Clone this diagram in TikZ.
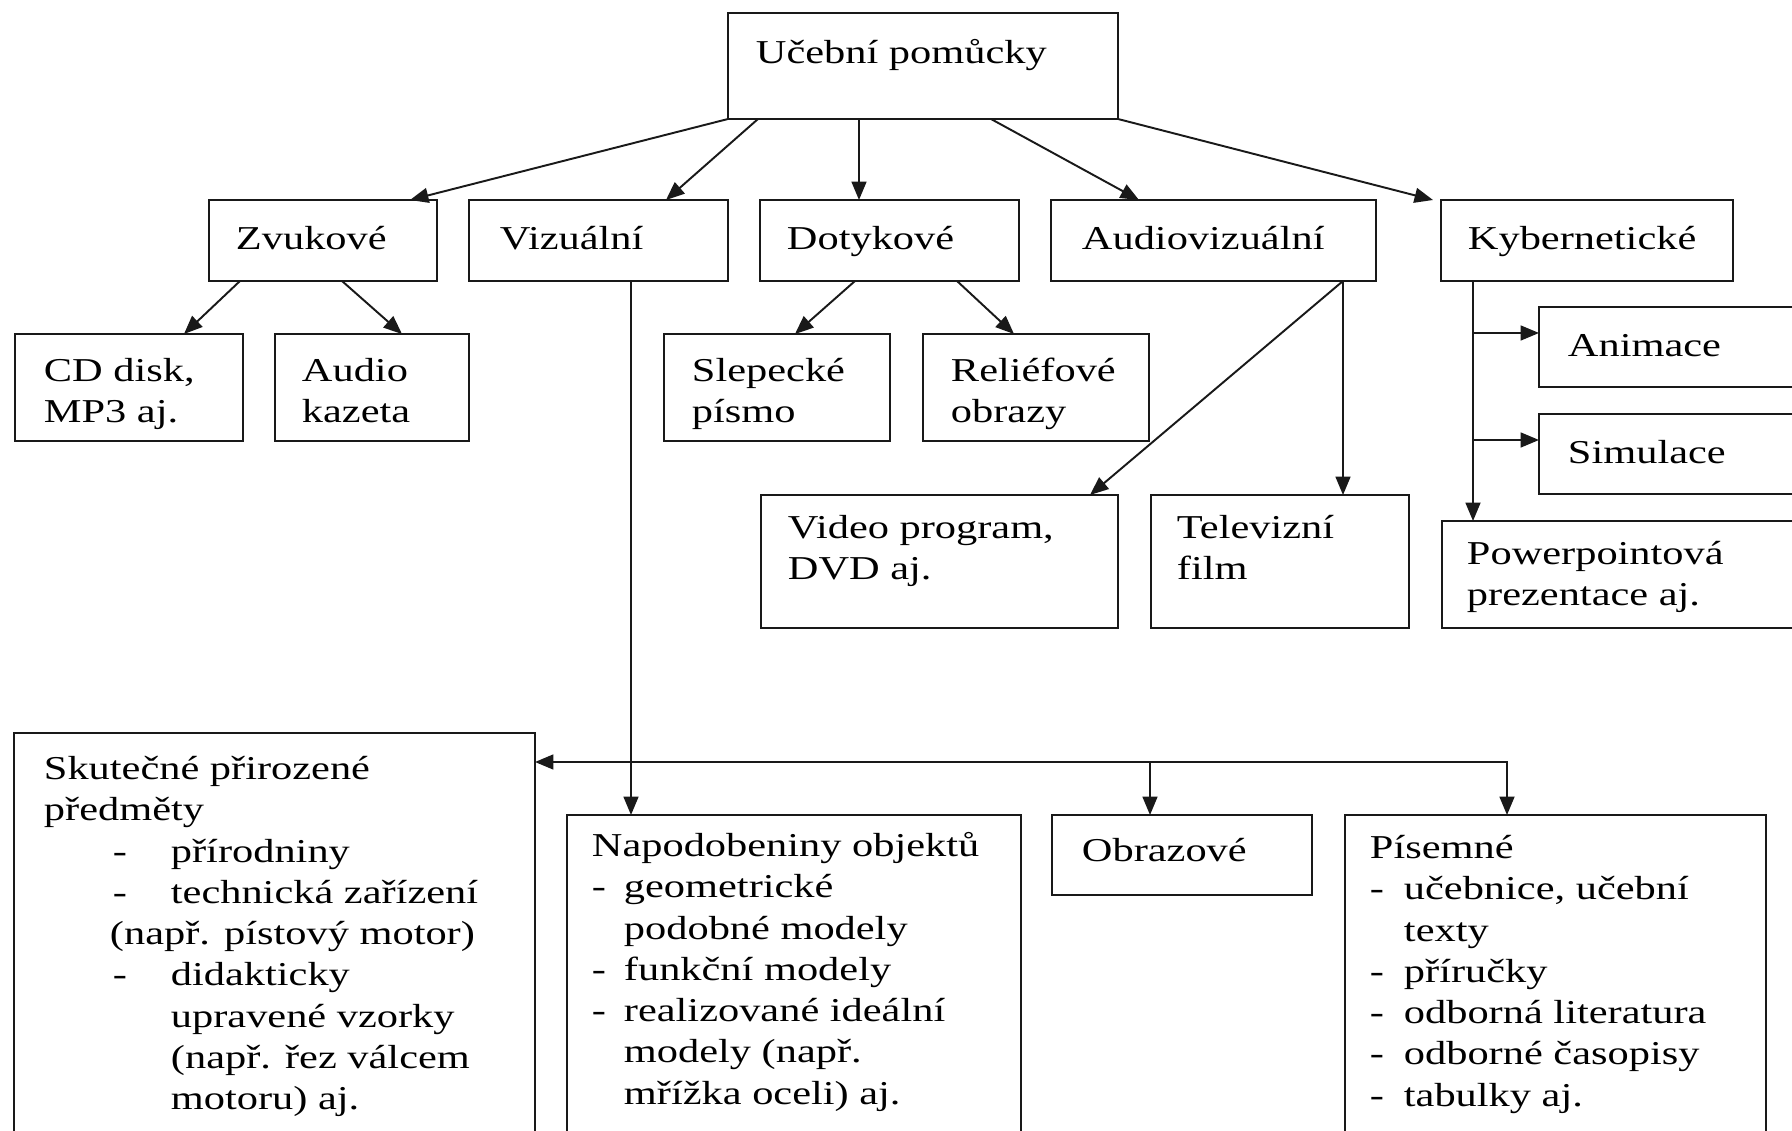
\documentclass[tikz,border=0pt]{standalone}
\usepackage{fontspec}
\setmainfont{Liberation Serif}[FakeStretch=1.27]
\usetikzlibrary{calc,positioning,arrows.meta}

\begin{document}
\begin{tikzpicture}[
  x=0.02cm, y=-0.02cm,
  line width=1.1pt,
  box/.style 2 args={
    rectangle,
    draw=black!90,
    fill=white,
    anchor=north west,
    minimum width=#1*0.02cm, minimum height=#2*0.02cm,
    inner sep=0pt,
    outer sep=0pt
  },
  box text/.style={
    anchor=north west,
    inner sep=0pt,
    align=left,
    font=\fontsize{19}{23.5}\selectfont
  },
  link/.style={
    draw=black!90,
    -{Triangle[length=10.5pt,width=8.5pt]}
  }
  ]
\useasboundingbox (0,0) rectangle (1792,1131);
\fill[white] (0,0) rectangle (1792,1131);
\clip (0,0) rectangle (1792,1131);
% Root
\node [box={390}{106}] (root) at (728,13) {};
\node [box text] (root text) at ($(root.north west)+(27,20.6)$) {\strut Učební pomůcky};
% Second level
\node [box={228}{81}] (zvukove) at (209,200) {};
\node [box text] (zvukove text) at ($(zvukove.north west)+(26,19.6)$) {\strut Zvukové};
\node [box={259}{81}] (vizualni) at (469,200) {};
\node [box text] (vizualni text) at ($(vizualni.north west)+(30,19.6)$) {\strut Vizuální};
\node [box={259}{81}] (dotykove) at (760,200) {};
\node [box text] (dotykove text) at ($(dotykove.north west)+(26,19.6)$) {\strut Dotykové};
\node [box={325}{81}] (audiovizualni) at (1051,200) {};
\node [box text] (audiovizualni text) at ($(audiovizualni.north west)+(30,19.6)$) {\strut Audiovizuální};
\node [box={292}{81}] (kyber) at (1441,200) {};
\node [box text] (kyber text) at ($(kyber.north west)+(26,19.6)$) {\strut Kybernetické};
\draw [link] (root.south west) -- ($(zvukove.north east)+(-27,0)$);
\draw [link] ($(root.south west)+(30,0)$) -- ($(vizualni.north east)+(-62,0)$);
\coordinate (root dotykove) at ($(root.south west)+(131,0)$);
\draw [link] (root dotykove) -- (root dotykove |- dotykove.north);
\draw [link] ($(root.south west)+(263,0)$) -- ($(audiovizualni.north west)+(88,0)$);
\draw [link] (root.south east) -- ($(kyber.north west)+(-8,0)$);
% Zvukove
\node [box={228}{107}] (cd) at (15,334) {};
\node [box text] (cd text) at ($(cd.north west)+(28,17.6)$) {\strut CD disk,\\MP3 aj.};
\node [box={194}{107}] (audio) at (275,334) {};
\node [box text] (audio text) at ($(audio.north west)+(26,17.6)$) {\strut Audio\\kazeta};
\draw [link] ($(zvukove.south west)+(31,0)$) -- ($(cd.north west)+(169,0)$);
\draw [link] ($(zvukove.south west)+(133,0)$) -- ($(audio.north west)+(127,0)$);
% Dotykove
\node [box={226}{107}] (slepecke) at (664,334) {};
\node [box text] (slepecke text) at ($(slepecke.north west)+(27,17.6)$) {\strut Slepecké\\písmo};
\node [box={226}{107}] (reliefove) at (923,334) {};
\node [box text] (reliefove text) at ($(reliefove.north west)+(27,17.6)$) {\strut Reliéfové\\obrazy};
\draw [link] ($(dotykove.south west)+(95,0)$) -- ($(slepecke.north west)+(131,0)$);
\draw [link] ($(dotykove.south west)+(197,0)$) -- ($(reliefove.north west)+(91,0)$);
% Audiovizualni
\node [box={357}{133}] (video) at (761,495) {};
\node [box text] (video text) at ($(video.north west)+(26,13.6)$) {\strut Video program,\\DVD aj.};
\node [box={258}{133}] (televizni) at (1151,495) {};
\node [box text] (televizni text) at ($(televizni.north west)+(25,13.6)$) {\strut Televizní\\film};
\coordinate (av socket) at ($(audiovizualni.south east)+(-33,0)$);
\draw [link] (av socket) -- ($(video.north west)+(329,0)$);
\draw [link] (av socket) -- (av socket |- televizni.north);
% Kyberneticke
\node [box={300}{80}] (animace) at (1539,307) {};
\node [box text] (animace text) at ($(animace.north west)+(28,19.6)$) {\strut Animace};
\node [box={300}{80}] (simulace) at (1539,414) {};
\node [box text] (simulace text) at ($(simulace.north west)+(28,19.6)$) {\strut Simulace};
\node [box={400}{107}] (powerpoint) at (1442,521) {};
\node [box text] (powerpoint text) at ($(powerpoint.north west)+(24,13.6)$) {\strut Powerpointová\\prezentace aj.};
\coordinate (kyber socket) at ($(kyber.south west)+(32,0)$);
\draw [link] (kyber socket) -- (kyber socket |- powerpoint.north);
\coordinate (animace socket) at ($(animace.north west)+(0,26)$);
\coordinate (simulace socket) at ($(simulace.north west)+(0,26)$);
\draw [link] (kyber socket |- animace socket) -- (animace socket);
\draw [link] (kyber socket |- simulace socket) -- (simulace socket);
% Vizualni
\node [box={521}{450}] (skutecne) at (14,733) {};
\node [box text] (skutecne text) at ($(skutecne.north west)+(29,16.6)$)
  {\strut Skutečné přirozené\\předměty\\
   \hspace*{13.8mm}\makebox[11.6mm][l]{-}přírodniny\\
   \hspace*{13.8mm}\makebox[11.6mm][l]{-}technická zařízení\\
   \hspace*{13.2mm}(např. pístový motor)\\
   \hspace*{13.8mm}\makebox[11.6mm][l]{-}didakticky\\
   \hspace*{25.4mm}upravené vzorky\\
   \hspace*{25.4mm}(např. řez válcem\\
   \hspace*{25.4mm}motoru) aj.};
\node [box={454}{400}] (napodobeniny) at (567,815) {};
\node [box text] (napodobeniny text) at ($(napodobeniny.north west)+(24,11.6)$)
  {\strut Napodobeniny objektů\\
   \makebox[6.4mm][l]{-}geometrické\\
   \hspace*{6.4mm}podobné modely\\
   \makebox[6.4mm][l]{-}funkční modely\\
   \makebox[6.4mm][l]{-}realizované ideální\\
   \hspace*{6.4mm}modely (např.\\
   \hspace*{6.4mm}mřížka oceli) aj.};
\node [box={260}{80}] (obrazove) at (1052,815) {};
\node [box text] (obrazove text) at ($(obrazove.north west)+(29,16.6)$) {\strut Obrazové};
\node [box={421}{400}] (pisemne) at (1345,815) {};
\node [box text] (pisemne text) at ($(pisemne.north west)+(24,13.6)$)
  {\strut Písemné\\
   \makebox[6.8mm][l]{-}učebnice, učební\\
   \hspace*{6.8mm}texty\\
   \makebox[6.8mm][l]{-}příručky\\
   \makebox[6.8mm][l]{-}odborná literatura\\
   \makebox[6.8mm][l]{-}odborné časopisy\\
   \makebox[6.8mm][l]{-}tabulky aj.};
\coordinate (vizualni socket) at ($(vizualni.south west)+(162,0)$);
\draw [link] (vizualni socket) -- (vizualni socket |- napodobeniny.north);
\coordinate (vizualni bus) at ($(skutecne.north east)+(0,29)$);
\coordinate (obrazove socket) at ($(obrazove.north west)+(98,0)$);
\coordinate (pisemne socket) at ($(pisemne.north west)+(162,0)$);
\draw [link] (vizualni socket |- vizualni bus) -- (vizualni bus);
\draw [link] (vizualni socket |- vizualni bus) -| (obrazove socket);
\draw [link] (vizualni socket |- vizualni bus) -| (pisemne socket);
\end{tikzpicture}
\end{document}
